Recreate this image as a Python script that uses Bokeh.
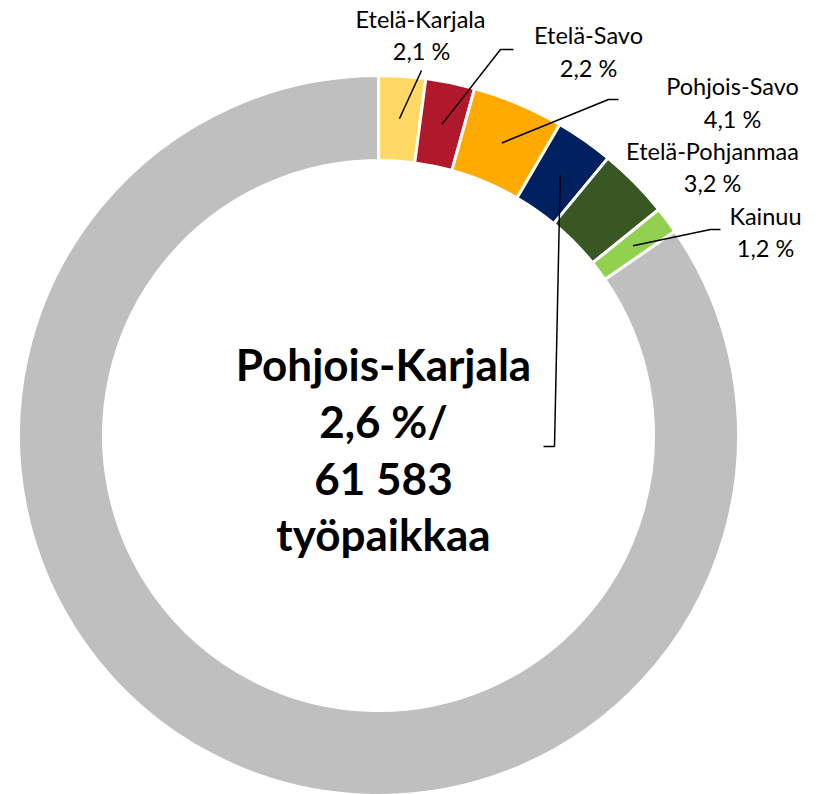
import numpy as np
from bokeh.plotting import figure
from bokeh.models import Range1d, ColumnDataSource
from bokeh.core.properties import value
from bokeh.embed import file_html
from bokeh.resources import INLINE

# ---- data ----
regions = ["Etelä-Karjala", "Etelä-Savo", "Pohjois-Savo", "Pohjois-Karjala",
           "Etelä-Pohjanmaa", "Kainuu", "Muu Suomi"]
shares = [2.1, 2.2, 4.1, 2.6, 3.2, 1.2, 84.6]
colors = ["#FFD966", "#B2182B", "#FFAA00", "#002060", "#385723", "#92D050", "#BFBFBF"]
pk_jobs = "61 583"
pk_unit = "työpaikkaa"

# ---- geometry (page pixels -> data: x same, y flipped) ----
W, H = 819, 794
def Y(yp):
    return H - yp

cx, cy = 378, Y(435)
r_out, r_in = 360, 275
r_mid = (r_out + r_in) / 2

tot = sum(shares)
frac = np.array(shares) / tot
cum = np.concatenate([[0], np.cumsum(frac)])
start = np.pi / 2 - 2 * np.pi * cum[:-1]
end = np.pi / 2 - 2 * np.pi * cum[1:]
mid = (start + end) / 2

p = figure(width=W, height=H, x_range=Range1d(0, W), y_range=Range1d(0, H),
           output_backend="svg", toolbar_location=None, min_border=0,
           x_axis_location=None, y_axis_location=None)
p.grid.visible = False
p.outline_line_color = None
p.background_fill_color = "white"

src = ColumnDataSource(dict(start=start, end=end, color=colors))
p.annular_wedge(x=cx, y=cy, inner_radius=r_in, outer_radius=r_out,
                start_angle="start", end_angle="end", direction="clock",
                fill_color="color", line_color="white", line_width=3, source=src)

def fmt(v):
    return f"{v:.1f}".replace(".", ",") + " %"

# outer labels: (index, name-center, value-center) in page pixels
lab = {
    0: ((420, 18), (421, 50)),
    1: ((588, 34), (588, 67)),
    2: ((732, 85), (732, 118)),
    4: ((712, 150), (712, 182)),
    5: ((765, 215), (765, 247)),
}
tx, ty, tt = [], [], []
for i, ((nx, ny), (vx, vy)) in lab.items():
    tx += [nx, vx]; ty += [Y(ny), Y(vy)]; tt += [regions[i], fmt(shares[i])]
p.text(x=tx, y=ty, text=tt, text_align="center", text_baseline="middle",
       text_font=value("Lato"), text_font_size="23.5px", text_color="#000000")

# center label
ctext = [regions[3], fmt(shares[3]) + "/", pk_jobs, pk_unit]
cys = [363, 420, 477, 533]
p.text(x=[383] * 4, y=[Y(v) for v in cys], text=ctext, text_align="center",
       text_baseline="middle", text_font=value("Lato"), text_font_size="44px",
       text_font_style="bold", text_color="#000000")

# leader lines: from slice mid-point to elbow points
elbows = {
    0: [(421, 70)],
    1: [(500, 49), (513, 49)],
    2: [(608, 99), (618, 99)],
    3: [(554, 446), (543, 446)],
    5: [(710, 229), (720, 229)],
}
xs, ys = [], []
for i, pts in elbows.items():
    sx = cx + r_mid * np.cos(mid[i])
    sy = cy + r_mid * np.sin(mid[i])
    xs.append([sx] + [q[0] for q in pts])
    ys.append([sy] + [Y(q[1]) for q in pts])
p.multi_line(xs=xs, ys=ys, line_color="black", line_width=1.5)

open("out.html", "w").write(file_html(p, INLINE))
